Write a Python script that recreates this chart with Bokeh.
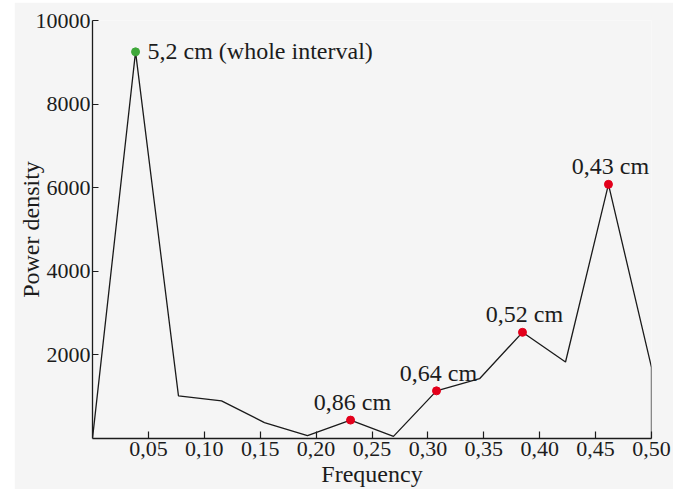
from bokeh.plotting import figure
from bokeh.layouts import row, column
from bokeh.models import Range1d, FixedTicker, Spacer
from bokeh.core.properties import value
from bokeh.embed import file_html
from bokeh.resources import INLINE

# ---- data ----
frequency = [0.0, 0.0385, 0.0769, 0.1154, 0.1538, 0.1923, 0.2308, 0.2692,
             0.3077, 0.3462, 0.3846, 0.4231, 0.4615, 0.5, 0.5]
power = [0, 9250, 1020, 900, 380, 70, 440, 50,
         1140, 1430, 2540, 1830, 6080, 1700, 0]

main_peak_index = 1
main_peak_label = "5,2 cm (whole interval)"
peak_indices = [6, 8, 10, 12]
peak_labels = ["0,86 cm", "0,64 cm", "0,52 cm", "0,43 cm"]

x_ticks = [0.05, 0.10, 0.15, 0.20, 0.25, 0.30, 0.35, 0.40, 0.45, 0.50]
x_tick_labels = ["0,05", "0,10", "0,15", "0,20", "0,25", "0,30", "0,35", "0,40", "0,45", "0,50"]
y_ticks = [2000, 4000, 6000, 8000, 10000]
y_tick_labels = ["2000", "4000", "6000", "8000", "10000"]

x_title = "Frequency"
y_title = "Power density"

# ---- style ----
FONT = "Liberation Serif"
TXT = "#1c1c1c"
BG = "#f5f5f5"
RED = "#e3001b"
GREEN = "#3fa83a"

p = figure(width=659, height=487, output_backend="svg", toolbar_location=None,
           x_range=Range1d(0, 0.5), y_range=Range1d(0, 10000),
           min_border_left=78, min_border_right=22, min_border_top=18,
           min_border_bottom=51,
           background_fill_color=BG, border_fill_color=BG)
p.outline_line_color = None
p.grid.visible = False

p.line(frequency, power, line_color="#1a1a1a", line_width=1.3)

# highlighted peaks
px = [frequency[i] for i in peak_indices]
py = [power[i] for i in peak_indices]
p.scatter(px, py, size=8, color=RED)
p.scatter([frequency[main_peak_index]], [power[main_peak_index]], size=8, color=GREEN)

p.text(px, py, text=peak_labels, text_align="center", text_baseline="alphabetic",
       x_offset=2, y_offset=-18, text_font=value(FONT), text_font_size="24px",
       text_color=TXT)
p.text([frequency[main_peak_index]], [power[main_peak_index]], text=[main_peak_label],
       text_align="left", text_baseline="middle", x_offset=12, y_offset=-1,
       text_font=value(FONT), text_font_size="24px", text_color=TXT)

# axes
xa = p.xaxis[0]
ya = p.yaxis[0]
xa.ticker = FixedTicker(ticks=x_ticks)
xa.major_label_overrides = {t: l for t, l in zip(x_ticks, x_tick_labels)}
ya.ticker = FixedTicker(ticks=y_ticks)
ya.major_label_overrides = {t: l for t, l in zip(y_ticks, y_tick_labels)}
for ax in (xa, ya):
    ax.axis_line_color = TXT
    ax.axis_line_width = 1.3
    ax.major_tick_line_color = TXT
    ax.major_tick_line_width = 1.2
    ax.major_tick_out = 0
    ax.minor_tick_line_color = None
    ax.major_label_text_font = FONT
    ax.major_label_text_font_size = "22px"
    ax.major_label_text_color = TXT
    ax.axis_label_text_font = FONT
    ax.axis_label_text_font_size = "24px"
    ax.axis_label_text_font_style = "normal"
    ax.axis_label_text_color = TXT
xa.major_tick_in = 7
ya.major_tick_in = 6
xa.major_label_standoff = 3
ya.major_label_standoff = 2
xa.axis_label = x_title
ya.axis_label = y_title
xa.axis_label_standoff = 2
ya.axis_label_standoff = -11

layout = row(Spacer(width=14), column(Spacer(height=2), p))
open("out.html", "w").write(file_html(layout, INLINE))
